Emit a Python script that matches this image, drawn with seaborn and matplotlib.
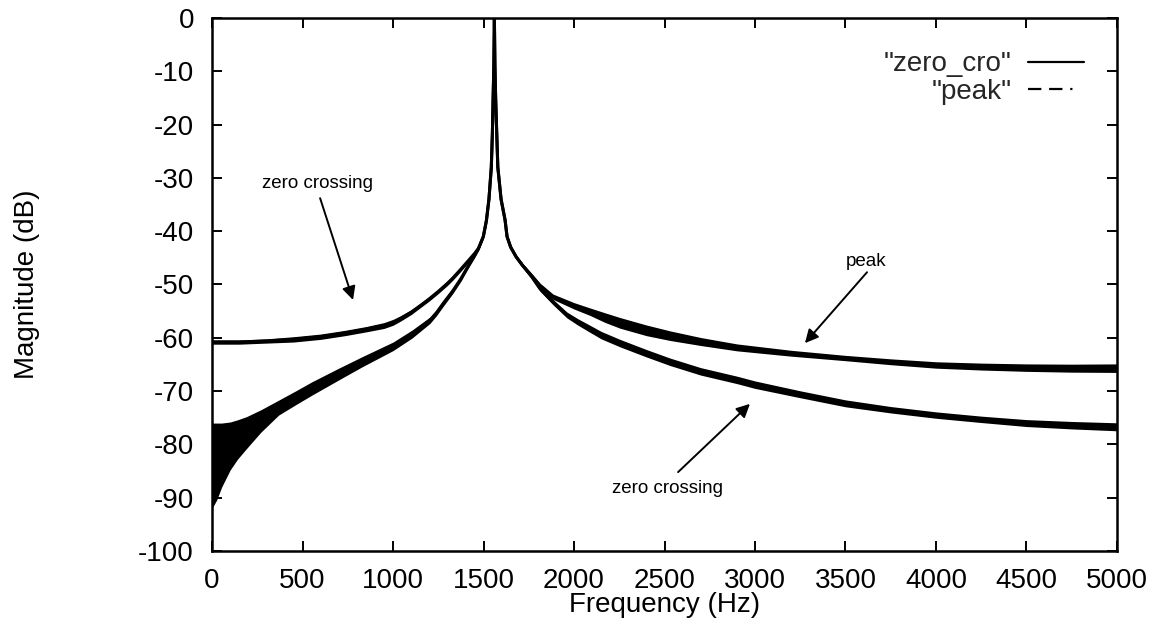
import numpy as np
import pandas as pd
import matplotlib
matplotlib.use("Agg")
import matplotlib.pyplot as plt
import seaborn as sns
from matplotlib.lines import Line2D
from matplotlib import font_manager

# ---------------- data ----------------
zc_freq = [0, 150, 300, 450, 600,
           735, 850, 950, 1000, 1040,
           1100, 1149, 1200, 1250, 1300,
           1330, 1370, 1414, 1450, 1472,
           1499, 1516, 1530, 1543, 1549,
           1553, 1557, 1560, 1563, 1567,
           1573, 1579, 1597, 1619, 1630,
           1650, 1680, 1715, 1765, 1812,
           1884, 1960, 2020, 2072, 2150,
           2254, 2400, 2530, 2700, 2900,
           3000, 3250, 3500, 3750, 4000,
           4250, 4500, 4750, 5000]
zc_db = [-60.8, -60.8, -60.6, -60.3, -59.8,
         -59.1, -58.4, -57.7, -57.1, -56.4,
         -55.2, -54.0, -52.7, -51.3, -49.8,
         -48.8, -47.3, -45.6, -44.2, -43.2,
         -41.0, -38.0, -34.0, -28.0, -21.6,
         -15.0, -9.0, 0.0, -9.0, -15.0,
         -21.6, -28.0, -34.0, -37.9, -41.0,
         -43.0, -44.8, -46.4, -48.5, -50.8,
         -53.3, -55.7, -57.0, -58.0, -59.5,
         -61.0, -62.9, -64.5, -66.3, -67.9,
         -68.8, -70.6, -72.3, -73.5, -74.5,
         -75.3, -76.0, -76.4, -76.7]
zc_thick = [0.8, 0.8, 0.8, 1.0, 1.0,
            1.0, 1.0, 1.1, 1.1, 1.0,
            0.9, 0.8, 0.8, 0.8, 0.8,
            0.8, 0.8, 0.8, 0.7, 0.7,
            0.6, 0.5, 0.4, 0.3, 0.2,
            0.2, 0.1, 0.0, 0.1, 0.2,
            0.2, 0.3, 0.4, 0.5, 0.6,
            0.7, 0.7, 0.8, 0.8, 0.9,
            1.0, 1.1, 1.2, 1.3, 1.4,
            1.4, 1.4, 1.4, 1.4, 1.4,
            1.4, 1.3, 1.3, 1.2, 1.2,
            1.2, 1.3, 1.4, 1.5]

peak_freq = [0, 26, 53, 100, 140,
             190, 270, 368, 460, 552,
             700, 829, 1000, 1105, 1204,
             1240, 1276, 1330, 1375, 1414,
             1450, 1472, 1499, 1516, 1530,
             1543, 1549, 1553, 1557, 1560,
             1563, 1567, 1573, 1579, 1597,
             1619, 1630, 1650, 1680, 1715,
             1765, 1812, 1884, 2000, 2088,
             2170, 2254, 2400, 2530, 2700,
             2900, 3200, 3500, 3750, 4000,
             4250, 4500, 4750, 5000]
peak_db = [-84.0, -83.2, -82.0, -80.3, -79.1,
           -77.8, -75.6, -73.1, -71.3, -69.5,
           -66.8, -64.5, -61.6, -59.3, -56.7,
           -55.3, -53.6, -51.2, -48.9, -46.6,
           -44.6, -43.3, -41.0, -38.0, -34.0,
           -28.0, -21.6, -15.0, -9.0, 0.0,
           -9.0, -15.0, -21.6, -28.0, -34.0,
           -37.9, -41.0, -43.0, -44.8, -46.4,
           -48.3, -50.2, -52.3, -54.0, -55.1,
           -56.2, -57.2, -58.6, -59.6, -60.7,
           -61.8, -62.9, -63.8, -64.5, -65.1,
           -65.4, -65.6, -65.7, -65.7]
peak_thick = [16.0, 14.4, 12.0, 9.0, 7.4,
              6.0, 4.2, 2.8, 2.6, 2.5,
              2.2, 1.9, 1.6, 1.5, 1.2,
              1.1, 1.1, 1.0, 1.0, 0.9,
              0.8, 0.7, 0.6, 0.5, 0.4,
              0.3, 0.2, 0.2, 0.1, 0.0,
              0.1, 0.2, 0.2, 0.3, 0.4,
              0.5, 0.6, 0.7, 0.7, 0.8,
              0.8, 0.9, 1.0, 1.2, 1.4,
              1.8, 2.0, 2.0, 1.8, 1.5,
              1.3, 1.1, 1.0, 1.1, 1.2,
              1.3, 1.4, 1.5, 1.6]

series_names = ['"zero_cro"', '"peak"']
x_ticks = list(range(0, 5001, 500))
y_ticks = list(range(-100, 1, 10))

ann_texts = ["zero crossing", "peak", "zero crossing"]
ann_text_xy = [(580, -31.0), (3613, -45.6), (2514, -88.2)]
ann_arrow_from = [(597, -33.8), (3619, -47.7), (2575, -85.2)]
ann_arrow_to = [(779, -52.9), (3276, -61.0), (2972, -72.4)]

# ---------------- style ----------------
sns.set_theme(style="ticks")
plt.rcParams["font.family"] = ["Liberation Sans", "DejaVu Sans"]

names = {f.name for f in font_manager.fontManager.ttflist}
if "Liberation Sans Narrow" in names:
    ann_family, ann_size = ["Liberation Sans Narrow", "DejaVu Sans"], 16.5
else:
    ann_family, ann_size = ["Liberation Sans", "DejaVu Sans"], 13.5

fig = plt.figure(figsize=(11.6, 6.32), dpi=100)
ax = fig.add_axes([0.1828, 0.1282, 0.7801, 0.8433])

for freq, db, thick in [(zc_freq, zc_db, zc_thick), (peak_freq, peak_db, peak_thick)]:
    f = np.array(freq, dtype=float)
    d = np.array(db, dtype=float)
    t = np.array(thick, dtype=float)
    ax.fill_between(f, d - t / 2, d + t / 2, color="black", lw=0)
    df = pd.DataFrame({"Frequency": f, "dB": d})
    sns.lineplot(data=df, x="Frequency", y="dB", ax=ax, color="black", lw=2.2,
                 legend=False, sort=False, estimator=None)

ax.set_xlim(0, 5000)
ax.set_ylim(-100, 0)
ax.set_xticks(x_ticks)
ax.set_yticks(y_ticks)
ax.set_xticklabels([str(v) for v in x_ticks])
ax.set_yticklabels([str(v) for v in y_ticks])
ax.tick_params(direction="in", length=7, width=1.4, top=True, right=True,
               labelsize=20, colors="black")
ax.tick_params(axis="y", pad=13)
ax.tick_params(axis="x", pad=12)
for sp in ax.spines.values():
    sp.set_visible(True)
    sp.set_linewidth(1.8)
    sp.set_color("black")

ax.set_xlabel("Frequency (Hz)", fontsize=20, color="black")
ax.set_ylabel("Magnitude (dB)", fontsize=20, color="black")
ax.xaxis.set_label_coords(0.5, -0.077)
ax.yaxis.set_label_coords(-0.19, 0.5)

# annotations
for txt, (tx, ty), (fx, fy), (ex, ey) in zip(ann_texts, ann_text_xy, ann_arrow_from, ann_arrow_to):
    ax.text(tx, ty, txt, ha="center", va="center", fontsize=ann_size, family=ann_family, color="black")
    ax.annotate("", xy=(ex, ey), xytext=(fx, fy),
                arrowprops=dict(arrowstyle="-|>", lw=1.4, color="black",
                                mutation_scale=20, shrinkA=0, shrinkB=0))

# legend
handles = [Line2D([], [], color="black", lw=1.6, ls="-"),
           Line2D([], [], color="black", lw=1.6, ls=(0, (6, 3.5, 6, 3.5, 1, 6)))]
ax.legend(handles, series_names, loc="upper right", frameon=False, fontsize=20,
          markerfirst=False, handlelength=2.0, handletextpad=0.6, labelspacing=0.05,
          borderpad=0, borderaxespad=1.2)

fig.savefig("out.png", dpi=100)
